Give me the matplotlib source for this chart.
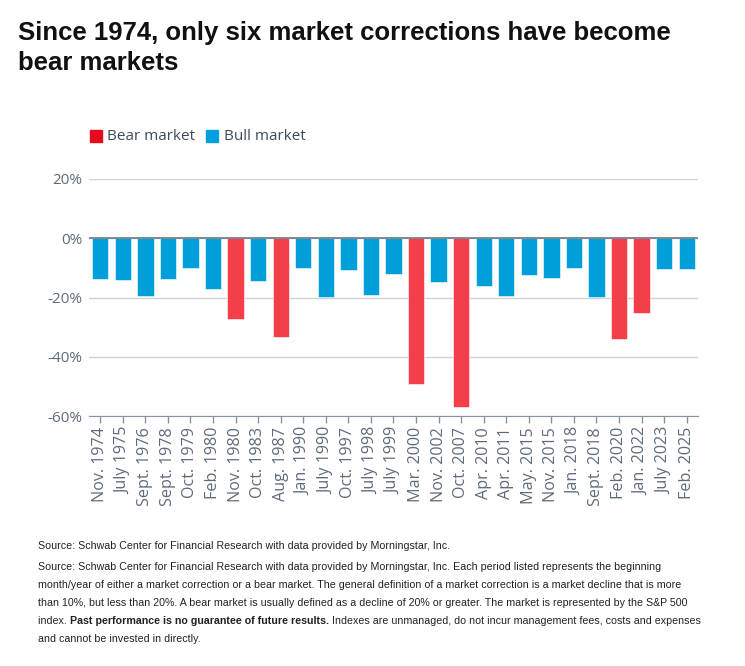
import matplotlib
matplotlib.use("Agg")
from matplotlib import pyplot as plt
from matplotlib.patches import Rectangle

periods = [
    "Nov. 1974", "July 1975", "Sept. 1976", "Sept. 1978", "Oct. 1979",
    "Feb. 1980", "Nov. 1980", "Oct. 1983", "Aug. 1987", "Jan. 1990",
    "July 1990", "Oct. 1997", "July 1998", "July 1999", "Mar. 2000",
    "Nov. 2002", "Oct. 2007", "Apr. 2010", "Apr. 2011", "May. 2015",
    "Nov. 2015", "Jan. 2018", "Sept. 2018", "Feb. 2020", "Jan. 2022",
    "July 2023", "Feb. 2025",
]
declines = [
    -13.7, -14.2, -19.4, -13.7, -10.2,
    -17.1, -27.1, -14.4, -33.5, -10.2,
    -19.9, -10.8, -19.3, -12.1, -49.1,
    -14.7, -56.8, -16.0, -19.4, -12.4,
    -13.3, -10.2, -19.8, -33.9, -25.4,
    -10.3, -10.3,
]
is_bear = [
    False, False, False, False, False,
    False, True, False, True, False,
    False, False, False, False, True,
    False, True, False, False, False,
    False, False, False, True, True,
    False, False,
]
y_ticks = [20, 0, -20, -40, -60]

BEAR_BAR = "#f43f4b"
BULL_BAR = "#009fdb"
BEAR_KEY = "#e30b1c"
BULL_KEY = "#00a0df"
GREY = "#5f6b7a"
DARK = "#222222"

chart_font = "Open Sans"
note_font = "Liberation Sans"

fig = plt.figure(figsize=(7.45, 6.66), dpi=100)
W, H = 745, 666
ax = fig.add_axes([89 / W, 1 - 416 / H, (698 - 89) / W, (416 - 179) / H])

colors = [BEAR_BAR if b else BULL_BAR for b in is_bear]
x = list(range(len(periods)))
ax.bar(x, declines, width=0.72, color=colors, edgecolor="white", linewidth=0.4, zorder=3)

ax.set_xlim(-0.5, len(periods) - 0.5)
ax.set_ylim(-60, 20)
ax.set_yticks(y_ticks)
ax.set_yticklabels([f"{v}%" for v in y_ticks], fontfamily=chart_font, fontsize=11, color=GREY)
ax.set_xticks(x)
ax.set_xticklabels(periods, rotation=90, fontfamily=chart_font, fontsize=11.6, color=GREY)
ax.tick_params(axis="y", length=0, pad=5)
ax.tick_params(axis="x", length=5, width=1, color="#8a939d", pad=3)
ax.grid(axis="y", color="#cfd3d7", linewidth=1, zorder=0)
for side in ["top", "right", "left"]:
    ax.spines[side].set_visible(False)
ax.spines["bottom"].set_color("#8a939d")
ax.axhline(0, color="#6d7782", linewidth=1.2, zorder=4)

# title
fig.text(18 / W, 1 - 40 / H, "Since 1974, only six market corrections have become",
         fontfamily=note_font, fontweight="bold", fontsize=18.5, color="#111111",
         va="baseline", ha="left")
fig.text(18 / W, 1 - 70 / H, "bear markets",
         fontfamily=note_font, fontweight="bold", fontsize=18.5, color="#111111",
         va="baseline", ha="left")

# legend
fig.patches.append(Rectangle((90 / W, 1 - 142 / H), 12 / W, 12 / H, transform=fig.transFigure,
                             color=BEAR_KEY, figure=fig))
fig.text(107 / W, 1 - 136 / H, "Bear market", fontfamily=chart_font, fontsize=11, color="#3d4b5a", va="center")
fig.patches.append(Rectangle((206 / W, 1 - 142 / H), 12 / W, 12 / H, transform=fig.transFigure,
                             color=BULL_KEY, figure=fig))
fig.text(224 / W, 1 - 136 / H, "Bull market", fontfamily=chart_font, fontsize=11, color="#3d4b5a", va="center")

# source notes
note_kw = dict(fontfamily=note_font, fontsize=7.65, color=DARK, va="baseline", ha="left")
fig.text(38 / W, 1 - 549 / H, "Source: Schwab Center for Financial Research with data provided by Morningstar, Inc.", **note_kw)
lines = [
    "Source: Schwab Center for Financial Research with data provided by Morningstar, Inc. Each period listed represents the beginning",
    "month/year of either a market correction or a bear market. The general definition of a market correction is a market decline that is more",
    "than 10%, but less than 20%. A bear market is usually defined as a decline of 20% or greater. The market is represented by the S&P 500",
]
for i, line in enumerate(lines):
    fig.text(38 / W, 1 - (570 + 18 * i) / H, line, **note_kw)

renderer = fig.canvas.get_renderer()
y4 = 1 - (570 + 18 * 3) / H
t1 = fig.text(38 / W, y4, "index. ", **note_kw)
x1 = t1.get_window_extent(renderer).x1
t2 = fig.text(x1 / W, y4, "Past performance is no guarantee of future results.", fontweight="bold",
              **note_kw)
x2 = t2.get_window_extent(renderer).x1
fig.text(x2 / W + 3 / W, y4, "Indexes are unmanaged, do not incur management fees, costs and expenses", **note_kw)
fig.text(38 / W, 1 - (570 + 18 * 4) / H, "and cannot be invested in directly.", **note_kw)

fig.savefig("out.png", dpi=100)
